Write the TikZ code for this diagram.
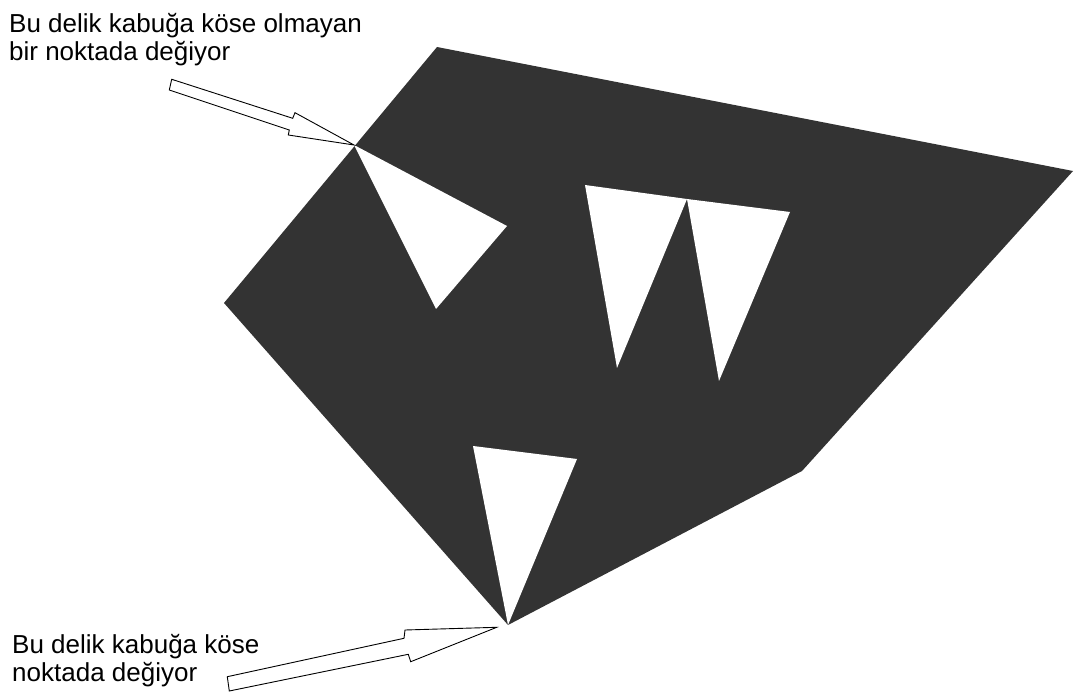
\documentclass[tikz,border=0pt]{standalone}
\usepackage{fontspec}
\setmainfont{Liberation Sans}
\definecolor{hullgray}{RGB}{51,51,51}
\begin{document}
\begin{tikzpicture}[x=1pt,y=-1pt,
  hull/.style={fill=hullgray,draw=none},
  hole/.style={fill=white,draw=none},
  blockarrow/.style={fill=white,draw=black,line width=0.9pt,line join=miter},
  label/.style={inner sep=0pt,anchor=base west,font=\fontsize{26}{27.5}\selectfont}]
\useasboundingbox (0,0) rectangle (1079,692);
% hull vertices
\coordinate (h1) at (437,47);
\coordinate (h2) at (1073,171);
\coordinate (h3) at (802,471);
\coordinate (h4) at (508,625);
\coordinate (h5) at (224,303);
\fill[hull] (h1) -- (h2) -- (h3) -- (h4) -- (h5) -- cycle;
% holes
\coordinate (a1) at (354,145);
\coordinate (a2) at (507,226);
\coordinate (a3) at (436,309);
\fill[hole] (a1) -- (a2) -- (a3) -- cycle;
\coordinate (b1) at (585,185);
\coordinate (b2) at (687,199);
\coordinate (b3) at (617,368);
\fill[hole] (b1) -- (b2) -- (b3) -- cycle;
\coordinate (c2) at (790,212);
\coordinate (c3) at (719,381);
\fill[hole] (b2) -- (c2) -- (c3) -- cycle;
\coordinate (d1) at (473,446);
\coordinate (d2) at (577,459);
\fill[hole] (d1) -- (d2) -- (h4) -- cycle;
% arrows
\draw[blockarrow] (171.7,79.3) -- (292.7,118.3) -- (295,112.7) -- (a1) -- (288.3,135) -- (289.3,130) -- (169.3,90) -- cycle;
\draw[blockarrow] (227.3,676.7) -- (404,638.3) -- (405,630) -- (496.7,627.3) -- (410.7,661.7) -- (408.3,654.3) -- (229.3,691) -- cycle;
% labels
\node[label] (t1a) at (9,33) {Bu delik kabuğa köse olmayan};
\node[label] (t1b) at (9,60.5) {bir noktada değiyor};
\node[label] (t2a) at (12,653) {Bu delik kabuğa köse};
\node[label] (t2b) at (12,681) {noktada değiyor};
\end{tikzpicture}
\end{document}
